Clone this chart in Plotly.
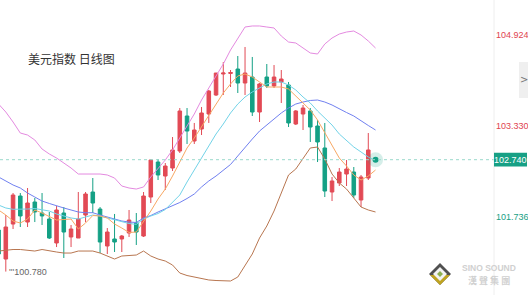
import plotly.graph_objects as go

# ---- data (USD index daily) ----
opens = [101.508, 101.000, 101.613, 102.104, 101.648, 101.999, 101.806, 101.701, 101.281, 101.806,
         101.386, 101.368, 101.771, 102.174, 101.876, 101.228, 101.351, 101.351, 101.456, 101.631,
         101.403, 102.086, 102.699, 102.454, 102.594, 102.892, 103.505, 103.067, 103.277, 103.540,
         103.873, 104.241, 104.250, 104.328, 104.083, 104.188, 103.575, 104.188, 104.031, 104.101,
         104.048, 103.365, 103.540, 103.593, 103.330, 102.945, 102.174, 102.332, 102.489, 102.524,
         102.034, 102.419]
highs = [101.543, 101.771, 102.156, 102.156, 102.244, 102.069, 102.156, 101.824, 101.929, 101.911,
         101.596, 102.174, 102.174, 102.419, 101.911, 101.543, 101.789, 101.421, 101.859, 101.806,
         102.174, 102.752, 102.752, 102.682, 103.137, 103.645, 103.645, 103.383, 103.663, 103.961,
         104.258, 104.451, 104.311, 104.556, 104.714, 104.539, 104.083, 104.416, 104.398, 104.311,
         104.101, 103.610, 103.698, 103.645, 103.435, 103.383, 102.437, 102.594, 102.734, 102.612,
         102.472, 103.207]
lows = [101.053, 100.780, 101.526, 101.561, 101.561, 101.648, 101.596, 101.351, 101.210, 101.018,
        101.210, 101.368, 101.648, 101.806, 101.105, 101.088, 101.123, 101.123, 101.386, 101.246,
        101.386, 101.981, 102.384, 102.209, 102.542, 102.857, 103.015, 103.015, 103.172, 103.383,
        103.855, 103.873, 104.013, 103.908, 103.873, 103.505, 103.400, 103.996, 103.996, 103.733,
        103.312, 103.347, 103.260, 103.050, 102.699, 102.086, 102.016, 102.279, 102.279, 102.069,
        101.911, 102.384]
closes = [101.088, 101.561, 102.121, 101.754, 101.981, 101.824, 101.754, 101.368, 101.859, 101.473,
          101.526, 101.701, 102.139, 101.981, 101.298, 101.473, 101.298, 101.403, 101.683, 101.473,
          102.104, 102.734, 102.472, 102.629, 102.910, 103.593, 103.242, 103.260, 103.558, 103.943,
          104.258, 104.258, 104.267, 104.083, 104.258, 103.575, 104.066, 104.031, 104.188, 104.153,
          103.383, 103.593, 103.645, 103.312, 103.050, 102.191, 102.367, 102.524, 102.577, 102.121,
          102.437, 102.910]

boll_upper = [103.715, 103.575, 103.400, 103.207, 103.172, 103.085, 102.927, 102.840, 102.769, 102.682,
              102.594, 102.489, 102.489, 102.489, 102.489, 102.472, 102.419, 102.279, 102.244, 102.226,
              102.262, 102.437, 102.577, 102.734, 102.910, 103.120, 103.330, 103.540, 103.785, 103.996,
              104.206, 104.416, 104.661, 104.871, 105.064, 105.082, 105.082, 105.064, 105.047, 104.906,
              104.801, 104.784, 104.696, 104.609, 104.591, 104.766, 104.871, 104.941, 104.976, 104.994,
              104.924, 104.819, 104.696]
boll_lower = [101.140, 101.158, 101.167, 101.167, 101.158, 101.140, 101.167, 101.140, 101.123, 101.105,
              101.105, 101.140, 101.140, 101.140, 101.105, 101.053, 101.000, 101.053, 101.062, 101.070,
              101.140, 101.053, 101.000, 100.965, 100.895, 100.755, 100.711, 100.685, 100.650, 100.633,
              100.624, 100.615, 100.615, 100.685, 100.878, 101.088, 101.368, 101.578, 101.841, 102.174,
              102.472, 102.577, 102.769, 102.945, 102.962, 102.752, 102.489, 102.332, 102.226, 102.069,
              101.911, 101.859, 101.824]
boll_mid = [102.437, 102.367, 102.297, 102.244, 102.156, 102.086, 102.016, 101.973, 101.929, 101.894,
            101.859, 101.824, 101.811, 101.811, 101.771, 101.736, 101.692, 101.666, 101.648, 101.640,
            101.719, 101.762, 101.824, 101.876, 101.929, 101.990, 102.060, 102.139, 102.262, 102.367,
            102.454, 102.559, 102.656, 102.805, 102.962, 103.102, 103.242, 103.347, 103.453, 103.558,
            103.645, 103.715, 103.750, 103.777, 103.785, 103.750, 103.698, 103.628, 103.566, 103.505,
            103.418, 103.339, 103.260]
ma10 = [101.946, 101.894, 101.871, 101.871, 101.876, 101.885, 101.859, 101.841, 101.789, 101.754,
        101.719, 101.701, 101.736, 101.771, 101.754, 101.719, 101.683, 101.648, 101.622, 101.608,
        101.701, 101.754, 101.797, 101.867, 101.999, 102.121, 102.349, 102.559, 102.787, 102.980,
        103.190, 103.365, 103.558, 103.715, 103.838, 103.926, 103.996, 104.066, 104.101, 104.101,
        104.048, 103.961, 103.838, 103.733, 103.593, 103.470, 103.347, 103.190, 103.067, 102.962,
        102.875, 102.787, 102.717]
ma5 = [101.859, 101.771, 101.666, 101.631, 101.701, 101.859, 101.806, 101.745, 101.683, 101.692,
       101.701, 101.526, 101.631, 101.762, 101.754, 101.719, 101.613, 101.543, 101.465, 101.473,
       101.648, 101.841, 102.051, 102.226, 102.454, 102.699, 102.945, 103.120, 103.312, 103.523,
       103.715, 103.908, 104.066, 104.206, 104.241, 104.188, 104.101, 104.013, 104.013, 104.013,
       103.978, 103.855, 103.750, 103.610, 103.435, 103.207, 102.980, 102.769, 102.629, 102.472,
       102.384, 102.454, 102.559]

last_price = 102.740
low_label = 100.780
axis_labels = [104.924, 103.330, 101.736]
axis_label_colors = ["#e0434f", "#e0434f", "#17a085"]
title = "美元指数 日线图"

RED = "#e24a55"
GREEN = "#14a085"

n = len(opens)
xc = list(range(n))
xl = list(range(len(ma5)))

fig = go.Figure()

line_specs = [
    (boll_upper, "#e48ae0"),
    (boll_lower, "#b87650"),
    (boll_mid, "#7080f0"),
    (ma10, "#72d3e8"),
    (ma5, "#f8a864"),
]
for vals, col in line_specs:
    fig.add_trace(go.Scatter(x=xl, y=vals, mode="lines",
                             line=dict(color=col, width=1), hoverinfo="skip", showlegend=False))

fig.add_trace(go.Candlestick(
    x=xc, open=opens, high=highs, low=lows, close=closes,
    increasing=dict(line=dict(color=RED, width=1), fillcolor=RED),
    decreasing=dict(line=dict(color=GREEN, width=1), fillcolor=GREEN),
    whiskerwidth=0, showlegend=False, hoverinfo="skip"))

# current price glow dot
fig.add_trace(go.Scatter(x=[n], y=[last_price], mode="markers",
                         marker=dict(size=15, color="rgba(20,160,133,0.18)"),
                         hoverinfo="skip", showlegend=False))
fig.add_trace(go.Scatter(x=[n], y=[last_price], mode="markers",
                         marker=dict(size=6, color=GREEN),
                         hoverinfo="skip", showlegend=False))

W, H = 528, 295
XD = 494 / W


def poly(pts):
    s = " L ".join(f"{px / W:.5f} {1 - py / H:.5f}" for px, py in pts)
    return "M " + s + " Z"


shapes = [
    dict(type="line", xref="paper", yref="y", x0=0, x1=XD, y0=last_price, y1=last_price,
         line=dict(color="#9ad9cc", width=1, dash="dot")),
    dict(type="line", xref="paper", yref="paper", x0=XD, x1=XD, y0=0, y1=1,
         line=dict(color="#eeeeee", width=1)),
    dict(type="rect", xref="paper", yref="paper", x0=519 / W, x1=1.02, y0=1 - 98 / H, y1=1 - 62 / H,
         fillcolor="#efefef", line=dict(width=0), layer="above"),
    # current price tag box
    dict(type="rect", xref="paper", yref="y", x0=XD, x1=527 / W,
         y0=last_price - 0.12, y1=last_price + 0.12, fillcolor="#17a085", line=dict(width=0)),
    # logo diamond
    dict(type="path", xref="paper", yref="paper", path=poly([(440, 263), (451, 274), (440, 285), (429, 274)]),
         fillcolor="#505050", line=dict(width=0)),
    dict(type="path", xref="paper", yref="paper", path=poly([(430, 275), (450, 275), (440, 285)]),
         fillcolor="#c0a420", line=dict(width=0)),
    dict(type="path", xref="paper", yref="paper", path=poly([(440, 267), (447, 274), (440, 281), (433, 274)]),
         fillcolor="#f4f4f4", line=dict(width=0)),
    dict(type="path", xref="paper", yref="paper", path=poly([(440, 271), (443, 274), (440, 277), (437, 274)]),
         fillcolor="#8db050", line=dict(width=0)),
]

annotations = [
    dict(text=title, xref="paper", yref="paper", x=26 / W, y=1 - 59 / H, xanchor="left", yanchor="middle",
         showarrow=False, font=dict(size=12, color="#333333", family="Noto Sans CJK SC")),
    dict(text="'''" + f"{low_label:.3f}", xref="x", yref="y", x=1, y=low_label, xanchor="left", yanchor="middle",
         xshift=1, showarrow=False, font=dict(size=9, color="#666666", family="Liberation Sans")),
    dict(text=">", xref="paper", yref="paper", x=523.5 / W, y=1 - 80 / H, xanchor="center", yanchor="middle",
         showarrow=False, font=dict(size=10, color="#777777", family="DejaVu Sans")),
    dict(text=f"{last_price:.3f}", xref="paper", yref="y", x=510.5 / W, y=last_price, xanchor="center",
         yanchor="middle", showarrow=False,
         font=dict(size=9, color="#ffffff", family="Liberation Sans")),
    dict(text="<b>SINO SOUND</b>", xref="paper", yref="paper", x=489 / W, y=1 - 268 / H, xanchor="center",
         yanchor="middle", showarrow=False, font=dict(size=8.5, color="#d0d0d0", family="Liberation Sans")),
    dict(text="<b>漢 聲 集 團</b>", xref="paper", yref="paper", x=489 / W, y=1 - 280 / H, xanchor="center",
         yanchor="middle", showarrow=False, font=dict(size=9, color="#d0d0d0", family="Noto Sans CJK TC")),
]
for v, c in zip(axis_labels, axis_label_colors):
    annotations.append(dict(text=f"{v:.3f}", xref="paper", yref="paper", x=512 / W,
                            y=(v - 100.370) / (105.537 - 100.370), xanchor="center", yanchor="middle",
                            showarrow=False, font=dict(size=9, color=c, family="Liberation Sans")))

fig.update_layout(
    width=W, height=H, margin=dict(l=0, r=0, t=0, b=0),
    paper_bgcolor="white", plot_bgcolor="white",
    xaxis=dict(domain=[0, XD], range=[0.2, 68.34], visible=False, rangeslider=dict(visible=False),
               showgrid=False, zeroline=False),
    yaxis=dict(range=[100.370, 105.537], visible=False, showgrid=False, zeroline=False),
    shapes=shapes, annotations=annotations, showlegend=False, hovermode=False,
)

fig.write_html("out.html")
